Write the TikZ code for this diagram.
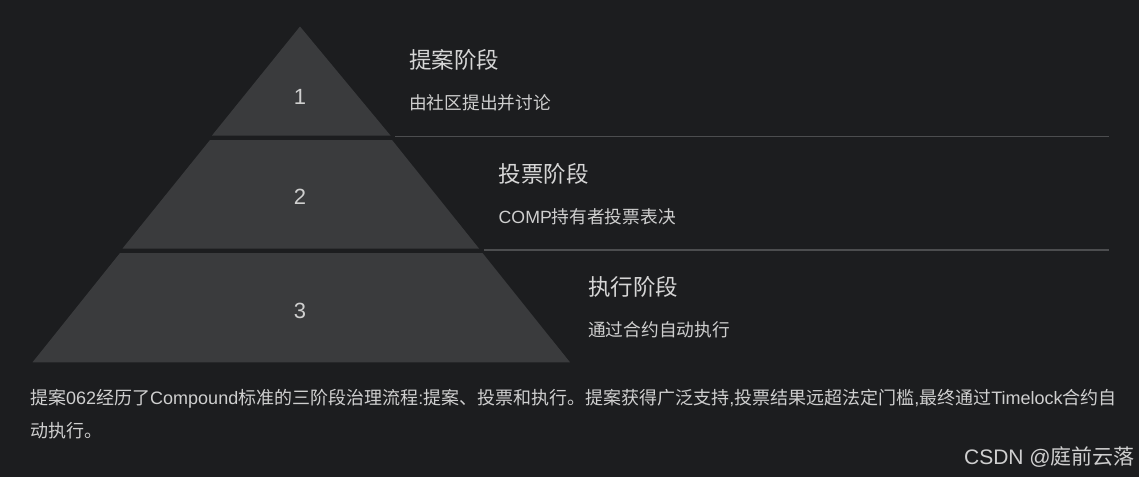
\documentclass[tikz,border=0pt]{standalone}
\usepackage{fontspec}
\setmainfont{Noto Sans CJK SC}
\newfontfamily\latin{Liberation Sans}
\newcommand{\lt}[1]{{\latin #1}}
\definecolor{bg}{HTML}{1C1D1F}
\definecolor{seg}{HTML}{3A3B3D}
\definecolor{rule}{HTML}{4C4D4F}
\definecolor{txt}{HTML}{D6D6D6}
\definecolor{txtb}{HTML}{CFCFCF}
\tikzset{
  segfill/.style={fill=seg, draw=none},
  divider/.style={draw=rule, line width=1.3pt},
  num/.style={text=txtb, font=\latin\fontsize{22}{22}\selectfont, inner sep=0pt},
  head/.style={text=txt, anchor=west, inner sep=0pt, font=\fontsize{22.5}{22.5}\selectfont},
  desc/.style={text=txtb, anchor=west, inner sep=0pt, font=\fontsize{17.7}{17.7}\selectfont},
  para/.style={text=txtb, anchor=north west, inner sep=0pt, align=left, font=\fontsize{18}{33}\selectfont},
  wmark/.style={text=txtb, anchor=east, inner sep=0pt, font=\fontsize{21}{21}\selectfont}
}
\begin{document}
\begin{tikzpicture}[x=1pt,y=-1pt]
\useasboundingbox[fill=bg] (0,0) rectangle (1139,477);
% pyramid segments
\path[segfill] (300,26.5) -- (390.5,135.5) -- (212,135.5) -- cycle;
\path[segfill] (210,140) -- (392,140) -- (479,248.5) -- (122.5,248.5) -- cycle;
\path[segfill] (120,253) -- (482.5,253) -- (570,362.3) -- (32.5,362.3) -- cycle;
% numbers
\node[num] (n1) at (300,97) {1};
\node[num] (n2) at (300,197) {2};
\node[num] (n3) at (300,311) {3};
% dividers
\coordinate (d1a) at (395,136.7);
\coordinate (d1b) at (1109,136.7);
\coordinate (d2a) at (484,250);
\coordinate (d2b) at (1109,250);
\draw[divider] (d1a) -- (d1b);
\draw[divider] (d2a) -- (d2b);
% texts
\node[head] (h1) at (409,60) {提案阶段};
\node[desc] (t1) at (409,103) {由社区提出并讨论};
\node[head] (h2) at (498.5,173.5) {投票阶段};
\node[desc] (t2) at (498.5,216.5) {\lt{COMP}持有者投票表决};
\node[head] (h3) at (588,287) {执行阶段};
\node[desc] (t3) at (588,330) {通过合约自动执行};
\node[para] (p) at (30,389) {提案\lt{062}经历了\lt{Compound}标准的三阶段治理流程\lt{:}提案、投票和执行。提案获得广泛支持\lt{,}投票结果远超法定门槛\lt{,}最终通过\lt{Timelock}合约自\\动执行。};
\node[wmark] (w) at (1135,457) {\lt{CSDN @}庭前云落};
\end{tikzpicture}
\end{document}
